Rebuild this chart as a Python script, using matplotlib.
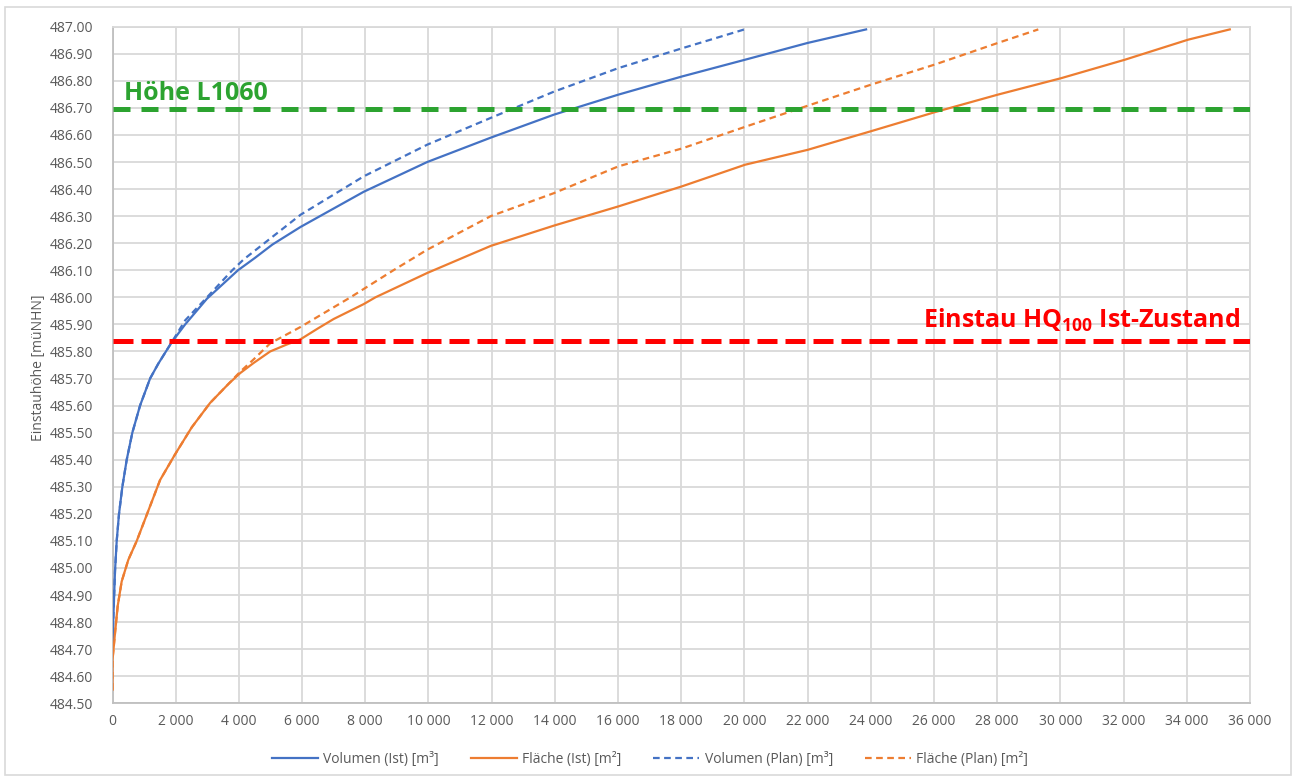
import numpy as np
import matplotlib
matplotlib.use('Agg')
import matplotlib.pyplot as plt
from matplotlib.patches import Rectangle

plt.rcParams['font.family'] = ['Open Sans', 'DejaVu Sans']
plt.rcParams['mathtext.fontset'] = 'custom'
plt.rcParams['mathtext.rm'] = 'Open Sans:bold'
plt.rcParams['mathtext.default'] = 'rm'

# Volumen (Ist) [m3]
vol_ist_x = [0, 25, 80, 133, 206, 312, 450, 628, 872, 1189, 1450, 1664, 1880, 2300, 2990, 3970,
             4500, 5060, 5950, 7950, 9960, 11970, 13970, 16010, 18020, 20020, 22000, 23850]
vol_ist_y = [484.69, 484.81, 484.99, 485.10, 485.20, 485.30, 485.40, 485.50, 485.60, 485.70,
             485.755, 485.795, 485.835, 485.90, 485.995, 486.10, 486.145, 486.195, 486.26, 486.39,
             486.50, 486.59, 486.675, 486.749, 486.816, 486.878, 486.94, 486.99]

# Volumen (Plan) [m3]
vol_plan_x = [0, 25, 80, 133, 206, 312, 450, 628, 872, 1189, 1450, 1664, 1880, 2300, 2990, 3510,
              3790, 4150, 5950, 7950, 9960, 11970, 13970, 16010, 18020, 20000]
vol_plan_y = [484.69, 484.81, 484.99, 485.10, 485.20, 485.30, 485.40, 485.50, 485.60, 485.70,
              485.755, 485.795, 485.835, 485.915, 486.00, 486.065, 486.10, 486.14, 486.305, 486.447,
              486.564, 486.663, 486.76, 486.847, 486.92, 486.99]

# Fläche (Ist) [m2]
fl_ist_x = [0, 0, 80, 165, 290, 500, 767, 1030, 1506, 1981, 2510, 3090, 3670, 4040, 4460,
            4990, 5500, 5950, 6500, 7000, 7950, 8320, 9960, 11970, 13970, 16010, 18020, 20020,
            22000, 24010, 26020, 28020, 30030, 32040, 34040, 35360]
fl_ist_y = [484.55, 484.66, 484.76, 484.86, 484.95, 485.03, 485.10, 485.18, 485.325, 485.42,
            485.52, 485.61, 485.68, 485.72, 485.757, 485.80, 485.825, 485.845, 485.885, 485.92,
            485.975, 486.00, 486.09, 486.19, 486.265, 486.336, 486.41, 486.49, 486.545, 486.614,
            486.684, 486.749, 486.81, 486.878, 486.952, 486.99]

# Fläche (Plan) [m2]
fl_plan_x = [0, 0, 80, 165, 290, 500, 767, 1030, 1506, 1981, 2510, 3090, 3670, 4040, 4460,
             4990, 5943, 7530, 8890, 9960, 11970, 13970, 16010, 18020, 20020, 22000, 24010,
             26020, 28020, 29300]
fl_plan_y = [484.55, 484.66, 484.76, 484.86, 484.95, 485.03, 485.10, 485.18, 485.325, 485.42,
             485.52, 485.61, 485.68, 485.725, 485.77, 485.83, 485.89, 486.00, 486.10, 486.176,
             486.30, 486.385, 486.484, 486.55, 486.63, 486.708, 486.786, 486.86, 486.94, 486.99]

hoehe_l1060 = 486.695
einstau_hq100 = 485.837

x_ticks = np.arange(0, 36001, 2000)
y_ticks = np.arange(484.5, 487.001, 0.1)

blue = '#4472C4'
orange = '#ED7D31'
green = '#2CA330'
red = '#FF0000'
grid_col = '#D9D9D9'
txt_col = '#595959'

fig = plt.figure(figsize=(12.96, 7.8), dpi=100)
ax = fig.add_axes([112.5 / 1296, 1 - 703.3 / 780, (1250 - 112.5) / 1296, (703.3 - 26.7) / 780])

fig.patches.append(Rectangle((5 / 1296, 5 / 780), 1286 / 1296, 768 / 780, transform=fig.transFigure,
                             fill=False, edgecolor='#D9D9D9', linewidth=1.2))

ax.plot(vol_ist_x, vol_ist_y, color=blue, lw=1.6, label='Volumen (Ist) [m³]', zorder=4)
ax.plot(fl_ist_x, fl_ist_y, color=orange, lw=1.6, label='Fläche (Ist) [m²]', zorder=4)
ax.plot(vol_plan_x, vol_plan_y, color=blue, lw=1.6, ls=(0, (3, 2)), label='Volumen (Plan) [m³]', zorder=3)
ax.plot(fl_plan_x, fl_plan_y, color=orange, lw=1.6, ls=(0, (3, 2)), label='Fläche (Plan) [m²]', zorder=3)

ax.axhline(hoehe_l1060, color=green, lw=3.6, ls=(0, (3.4, 2.2)), zorder=5)
ax.axhline(einstau_hq100, color=red, lw=3.6, ls=(0, (4, 1.6)), zorder=5)

ax.text(370, hoehe_l1060 + 0.035, 'Höhe L1060', color=green, fontsize=18, fontweight='bold',
        ha='left', va='baseline', zorder=6)
ax.text(35700, einstau_hq100 + 0.05, 'Einstau HQ$_{100}$ Ist-Zustand', color=red, fontsize=18,
        fontweight='bold', ha='right', va='baseline', zorder=6)

ax.set_xlim(0, 36000)
ax.set_ylim(484.5, 487.0)
ax.set_xticks(x_ticks)
ax.set_yticks(y_ticks)
ax.set_xticklabels([f'{int(v):,}'.replace(',', ' ') for v in x_ticks])
ax.set_yticklabels([f'{v:.2f}' for v in y_ticks])
ax.tick_params(length=0, labelsize=10, labelcolor=txt_col)
ax.tick_params(axis='y', pad=14)
ax.tick_params(axis='x', pad=8)
ax.grid(True, color=grid_col, lw=1.3)
ax.set_axisbelow(True)
for s in ax.spines.values():
    s.set_color(grid_col)
    s.set_linewidth(1.3)
ax.spines['left'].set_color('#BFBFBF')
ax.spines['bottom'].set_color('#BFBFBF')

fig.text(39 / 1296, 1 - 368 / 780, 'Einstauhöhe [müNHN]', rotation=90, fontsize=10,
         color=txt_col, ha='center', va='center')

leg = ax.legend(loc='center', bbox_to_anchor=(650 / 1296, 1 - 759 / 780),
                bbox_transform=fig.transFigure, ncol=4, frameon=False, fontsize=10,
                handlelength=3.3, handletextpad=0.4, columnspacing=2.3)
for t in leg.get_texts():
    t.set_color(txt_col)

fig.savefig('out.png', dpi=100)
